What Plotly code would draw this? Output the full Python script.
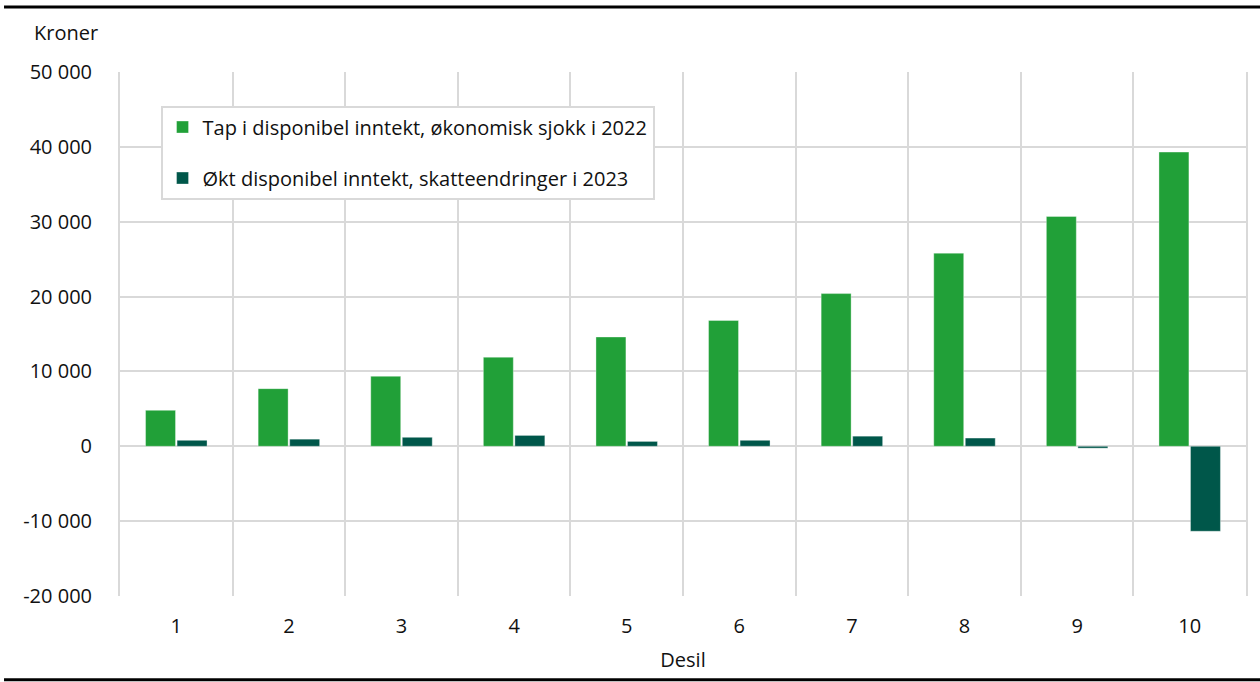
import plotly.graph_objects as go

deciles = [1, 2, 3, 4, 5, 6, 7, 8, 9, 10]
tap_2022 = [4800, 7700, 9350, 11900, 14600, 16800, 20400, 25800, 30700, 39300]
okt_2023 = [800, 950, 1200, 1450, 650, 800, 1350, 1100, -250, -11350]
y_ticks = [-20000, -10000, 0, 10000, 20000, 30000, 40000, 50000]
y_labels = ["-20 000", "-10 000", "0", "10 000", "20 000", "30 000", "40 000", "50 000"]

GREEN = "#21a038"
DARK = "#00574a"
GRID = "#d9d9d9"
FONT = "Open Sans"

fig = go.Figure()
fig.add_trace(go.Bar(
    x=deciles, y=tap_2022, name="Tap i disponibel inntekt, økonomisk sjokk i 2022",
    marker=dict(color=GREEN, line=dict(color="rgba(255,255,255,0.35)", width=1)),
    legendgroup="a",
))
fig.add_trace(go.Bar(
    x=deciles, y=okt_2023, name="Økt disponibel inntekt, skatteendringer i 2023",
    marker=dict(color=DARK, line=dict(color="rgba(255,255,255,0.35)", width=1)),
    legendgroup="b",
))

fig.update_layout(
    width=1260, height=682,
    margin=dict(l=120, r=14, t=72, b=86),
    paper_bgcolor="white", plot_bgcolor="white",
    font=dict(family=FONT, size=20, color="#111111"),
    barmode="group", bargap=0.44, bargroupgap=0.05,
    legend=dict(
        x=0.036, y=0.936, xanchor="left", yanchor="top",
        bordercolor=GRID, borderwidth=2, bgcolor="white",
        tracegroupgap=22, font=dict(size=20),
        itemwidth=30,
    ),
    showlegend=True,
)

fig.update_xaxes(
    range=[0.5, 10.5], tickvals=deciles, ticktext=[str(d) for d in deciles],
    showgrid=False, zeroline=False, showline=False, ticks="",
    minor=dict(tickvals=[d + 0.5 for d in deciles[:-1]], showgrid=True,
               gridcolor=GRID, gridwidth=2, ticks=""),
    ticklabelstandoff=16,
    title=dict(text="Desil", standoff=14, font=dict(size=20)),
)
fig.update_yaxes(
    range=[-20000, 50000], tickvals=y_ticks, ticktext=y_labels,
    showgrid=True, gridcolor=GRID, gridwidth=2,
    zeroline=False, showline=True, linecolor=GRID, linewidth=2, mirror=True,
    ticks="", ticklabelstandoff=22,
)

fig.add_annotation(text="Kroner", xref="paper", yref="paper", x=-0.078, y=1.076,
                   xanchor="left", yanchor="middle", showarrow=False, font=dict(size=20))

# black rules at top and bottom of the figure
fig.add_shape(type="line", xref="paper", yref="paper", x0=-0.103, x1=1.013,
              y0=1.124, y1=1.124, line=dict(color="black", width=3))
fig.add_shape(type="line", xref="paper", yref="paper", x0=-0.103, x1=1.013,
              y0=-0.160, y1=-0.160, line=dict(color="black", width=3))

fig.write_html("out.html", config={"displayModeBar": False},
               post_script="document.body.style.margin='0';")
